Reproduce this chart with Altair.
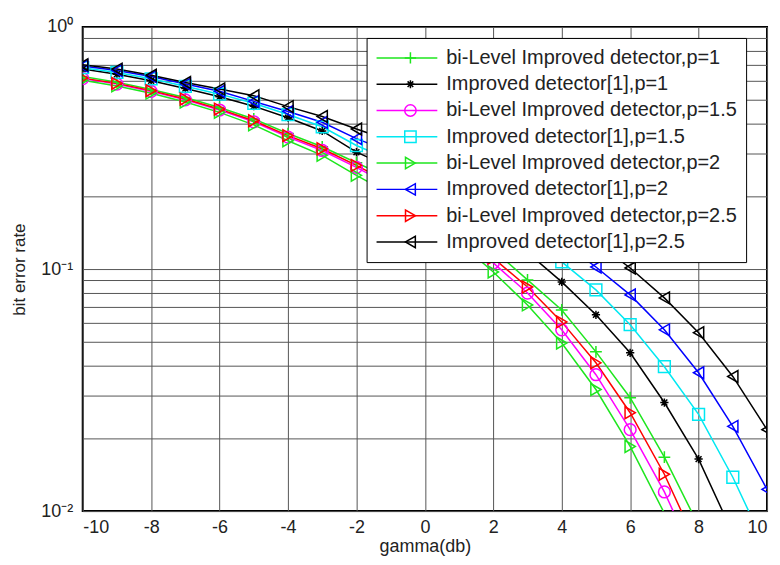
import altair as alt
import pandas as pd

gamma_db = list(range(-10, 11))

labels = [
    "bi-Level Improved detector,p=1",
    "Improved detector[1],p=1",
    "bi-Level Improved detector,p=1.5",
    "Improved detector[1],p=1.5",
    "bi-Level Improved detector,p=2",
    "Improved detector[1],p=2",
    "bi-Level Improved detector,p=2.5",
    "Improved detector[1],p=2.5",
]

bl_p1 = [0.624, 0.592, 0.552, 0.511, 0.465, 0.417, 0.363, 0.320, 0.275, 0.237, 0.200,
         0.158, 0.120, 0.0902, 0.0678, 0.0455, 0.0294, 0.0167, 0.0087]
imp_p1 = [0.670, 0.638, 0.600, 0.557, 0.515, 0.471, 0.422, 0.372, 0.304, 0.263, 0.224,
          0.186, 0.151, 0.117, 0.0885, 0.0647, 0.0451, 0.0281, 0.0164, 0.0081]
bl_p15 = [0.612, 0.581, 0.542, 0.500, 0.454, 0.406, 0.351, 0.309, 0.263, 0.221, 0.180,
          0.140, 0.106, 0.0796, 0.0561, 0.0366, 0.0217, 0.0120, 0.0059]
imp_p15 = [0.679, 0.649, 0.611, 0.569, 0.528, 0.484, 0.435, 0.387, 0.324, 0.282, 0.243,
           0.204, 0.170, 0.136, 0.107, 0.0820, 0.0589, 0.0395, 0.0251, 0.0138, 0.0069]
bl_p2 = [0.603, 0.571, 0.533, 0.490, 0.444, 0.394, 0.339, 0.295, 0.244, 0.204, 0.166,
         0.129, 0.0973, 0.0711, 0.0495, 0.0318, 0.0185, 0.0098]
imp_p2 = [0.690, 0.661, 0.624, 0.581, 0.543, 0.493, 0.448, 0.404, 0.346, 0.305, 0.266,
          0.226, 0.191, 0.158, 0.129, 0.102, 0.0782, 0.0561, 0.0373, 0.0224, 0.0123]
bl_p25 = [0.615, 0.585, 0.546, 0.504, 0.458, 0.410, 0.356, 0.314, 0.268, 0.226, 0.186,
          0.145, 0.111, 0.0843, 0.0605, 0.0410, 0.0255, 0.0142, 0.0070]
imp_p25 = [0.698, 0.670, 0.632, 0.590, 0.555, 0.520, 0.469, 0.427, 0.379, 0.339, 0.299,
           0.260, 0.224, 0.191, 0.158, 0.129, 0.101, 0.0760, 0.0546, 0.0360, 0.0217]

series = [bl_p1, imp_p1, bl_p15, imp_p15, bl_p2, imp_p2, bl_p25, imp_p25]

colors = ["#1ee61e", "#000000", "#ff00ff", "#00e8f2", "#1ee61e", "#0000ff", "#ff0000", "#000000"]
PLUS = "M-1,0L1,0M0,-1L0,1"
STAR = "M-0.7,0L0.7,0M0,-0.7L0,0.7M-0.5,-0.5L0.5,0.5M-0.5,0.5L0.5,-0.5"
shapes = [PLUS, STAR, "circle", "square", "triangle-right", "triangle-left",
          "triangle-right", "triangle-left"]

mlabels = ["m%d" % i for i in range(len(labels))]

rows = []
for i, (lab, vals) in enumerate(zip(labels, series)):
    for g, v in zip(gamma_db, vals):
        rows.append({"gamma": g, "ber": v, "series": lab, "mseries": mlabels[i]})
df = pd.DataFrame(rows)

y_grid = [0.01, 0.02, 0.03, 0.04, 0.05, 0.06, 0.07, 0.08, 0.09,
          0.1, 0.2, 0.3, 0.4, 0.5, 0.6, 0.7, 0.8, 0.9, 1.0]
x_ticks = list(range(-10, 11, 2))

FONT = "Liberation Sans"
TXT = "#222222"

x_enc = alt.X(
    "gamma:Q",
    scale=alt.Scale(domain=[-10, 10], nice=False),
    axis=alt.Axis(
        values=x_ticks, labelExpr="datum.value + ''", grid=True, gridColor="#555555",
        gridWidth=1, domain=False, ticks=False, labelFontSize=18, labelFont=FONT,
        labelColor=TXT, labelPadding=7, title="gamma(db)", titleFont=FONT,
        titleFontSize=18, titleFontWeight="normal", titleColor=TXT,
        titleX=343.5, titleY=36, titleBaseline="middle", titleAlign="center",
    ),
)
y_enc = alt.Y(
    "ber:Q",
    scale=alt.Scale(type="log", domain=[0.01, 1], nice=False),
    axis=alt.Axis(
        values=y_grid,
        labelExpr="datum.value == 1 ? '10⁰' : (datum.value == 0.1 ? '10⁻¹' : (datum.value == 0.01 ? '10⁻²' : ''))",
        grid=True, gridColor="#555555", gridWidth=1, domain=False, ticks=False,
        labelFontSize=18, labelFont=FONT, labelColor=TXT, labelPadding=10,
        labelOverlap=False, labelBound=False, labelFlush=False,
        title="bit error rate", titleFont=FONT, titleFontSize=17, titleFontWeight="normal",
        titleColor=TXT, titleX=-63, titleY=243, titleAngle=270, titleAlign="center",
        titleBaseline="middle",
    ),
)

common_legend = dict(
    title=None, orient="none", legendX=285, legendY=11, padding=9,
    clipHeight=22, rowPadding=4.4, labelFontSize=20, labelFont=FONT,
    labelLimit=400, labelOffset=8, symbolStrokeWidth=1.5,
)

lines = alt.Chart(df).mark_line(strokeWidth=1.5, clip=True).encode(
    x=x_enc,
    y=y_enc,
    color=alt.Color(
        "series:N",
        scale=alt.Scale(domain=labels, range=colors),
        legend=alt.Legend(symbolType="stroke", symbolSize=3721, fillColor="white",
                          strokeColor="black", labelColor=TXT, **common_legend),
    ),
    order="gamma:Q",
)

marker_legend = alt.Legend(symbolSize=130, labelExpr="''", symbolOffset=25, **common_legend)

points = alt.Chart(df).transform_filter("datum.ber >= 0.01").mark_point(
    filled=False, strokeWidth=1.5, size=140, opacity=1, clip=True
).encode(
    x=x_enc,
    y=y_enc,
    stroke=alt.Stroke("mseries:N", scale=alt.Scale(domain=mlabels, range=colors),
                      legend=marker_legend),
    shape=alt.Shape("mseries:N", scale=alt.Scale(domain=mlabels, range=shapes),
                    legend=marker_legend),
)

chart = alt.layer(lines, points).properties(
    width=687, height=486,
    padding={"left": 75, "top": 18, "right": 5, "bottom": 50},
    autosize=alt.AutoSizeParams(type="none"),
    background="white",
).configure_view(stroke="black", strokeWidth=2)

chart.save("out.html", embed_options={"renderer": "svg", "actions": False})
